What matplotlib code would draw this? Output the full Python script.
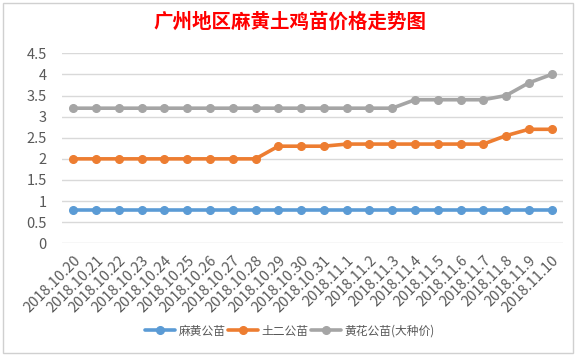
import matplotlib
matplotlib.use("Agg")
import matplotlib.pyplot as plt
from matplotlib.patches import Rectangle

plt.rcParams['font.family'] = ['Noto Sans CJK SC', 'DejaVu Sans']

dates = ["2018.10.20", "2018.10.21", "2018.10.22", "2018.10.23", "2018.10.24",
         "2018.10.25", "2018.10.26", "2018.10.27", "2018.10.28", "2018.10.29",
         "2018.10.30", "2018.10.31", "2018.11.1", "2018.11.2", "2018.11.3",
         "2018.11.4", "2018.11.5", "2018.11.6", "2018.11.7", "2018.11.8",
         "2018.11.9", "2018.11.10"]
mahuang = [0.8] * 22
tuer = [2.0, 2.0, 2.0, 2.0, 2.0, 2.0, 2.0, 2.0, 2.0, 2.3, 2.3, 2.3,
        2.35, 2.35, 2.35, 2.35, 2.35, 2.35, 2.35, 2.55, 2.7, 2.7]
huanghua = [3.2, 3.2, 3.2, 3.2, 3.2, 3.2, 3.2, 3.2, 3.2, 3.2, 3.2, 3.2,
            3.2, 3.2, 3.2, 3.4, 3.4, 3.4, 3.4, 3.5, 3.8, 4.0]
names = ["麻黄公苗", "土二公苗", "黄花公苗(大种价)"]
colors = ["#5B9BD5", "#ED7D31", "#A5A5A5"]
yticks = [0, 0.5, 1, 1.5, 2, 2.5, 3, 3.5, 4, 4.5]

W, H = 580, 359
fig = plt.figure(figsize=(W / 100, H / 100), dpi=100)
fig.patch.set_facecolor("white")
fig.patches.append(Rectangle((3 / W, 1 - 353 / H), 570 / W, 350 / H,
                             transform=fig.transFigure, fill=False,
                             edgecolor="#D0D0D0", linewidth=1))

ax = fig.add_axes([62 / W, 1 - 243.3 / H, (563 - 62) / W, (243.3 - 53.3) / H])
x = list(range(len(dates)))
for ys, name, c in zip([mahuang, tuer, huanghua], names, colors):
    ax.plot(x, ys, color=c, linewidth=2.6, marker="o", markersize=5.5,
            label=name, solid_capstyle="round", zorder=3)

ax.set_xlim(-0.5, len(dates) - 0.5)
ax.set_ylim(0, 4.5)
ax.set_yticks(yticks)
ax.set_yticklabels([("%g" % v) for v in yticks])
ax.set_xticks(x)
ax.set_xticklabels(dates, rotation=45, ha="right", rotation_mode="anchor")
ax.tick_params(axis="both", length=0, colors="#595959", labelsize=10.5)
ax.tick_params(axis="y", pad=11)
ax.tick_params(axis="x", pad=7)
ax.grid(axis="y", color="#D9D9D9", linewidth=1)
ax.set_axisbelow(True)
for s in ax.spines.values():
    s.set_visible(False)

fig.text(290 / W, 1 - 22 / H, "广州地区麻黄土鸡苗价格走势图", color="#FF0000",
         fontsize=14, fontweight="bold", ha="center", va="center")

fig.legend(loc="center", bbox_to_anchor=(290 / W, 1 - 331 / H), ncol=3,
           frameon=False, fontsize=8.5, labelcolor="#595959", handlelength=2.5,
           columnspacing=0.25, handletextpad=0.3)

fig.savefig("out.png", dpi=100)
